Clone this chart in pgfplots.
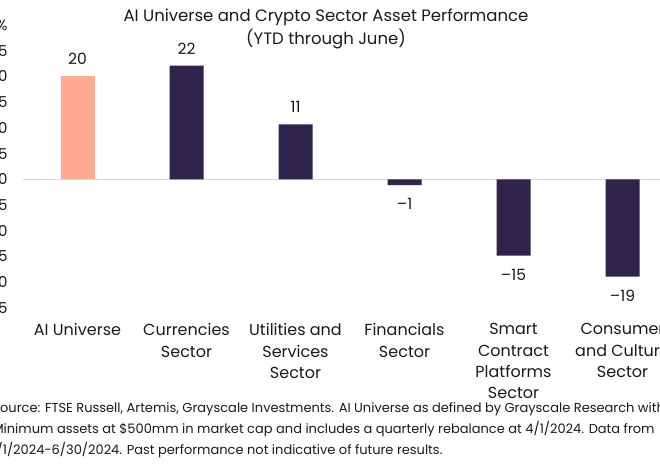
\documentclass[border=0pt]{standalone}
\usepackage{fontspec}
\setmainfont{Poppins}
\usepackage{pgfplots}
\pgfplotsset{compat=1.18}
\definecolor{aisalmon}{RGB}{255,171,145}
\definecolor{navy}{RGB}{46,35,74}
\definecolor{zeroline}{RGB}{217,217,217}
\definecolor{txt}{RGB}{26,26,26}

\begin{document}
\begin{tikzpicture}
% page = 660 x 470 (1pt = 1px); things that run past the edges are cut off, as in the reference
\useasboundingbox (0pt,0pt) rectangle (660pt,-470pt);

\node[align=center, text=txt, font=\fontsize{16.5}{23}\selectfont]
  at (326pt,-29pt) {AI Universe and Crypto Sector Asset Performance\\(YTD through June)};

\begin{axis}[
  at={(23pt,-308pt)}, anchor=south west,
  scale only axis, width=654pt, height=283pt,
  xmin=-0.5, xmax=5.5, ymin=-25, ymax=30,
  axis line style={draw=none}, tick style={draw=none},
  ytick={-25,-20,-15,-10,-5,0,5,10,15,20,25,30},
  yticklabels={\textendash25,\textendash20,\textendash15,\textendash10,\textendash5,0,5,10,15,20,25,30\%},
  yticklabel style={anchor=east, xshift=-12pt, text=txt, font=\fontsize{15}{18}\selectfont},
  xtick={0,1,2,3,4,5},
  xticklabels={AI Universe, Currencies\\Sector, Utilities and\\Services\\Sector,
               Financials\\Sector, Smart\\Contract\\Platforms\\Sector, Consumer\\and Culture\\Sector},
  xticklabel style={anchor=north, yshift=-12pt, align=center, text=txt,
                    font=\fontsize{16}{21.3}\selectfont},
  clip=false,
  point meta=explicit symbolic,
  nodes near coords,
  every node near coord/.append style={text=txt, font=\fontsize{15.5}{18}\selectfont},
]
\draw[zeroline, line width=1.5pt] (axis cs:-0.5,0) -- (axis cs:5.5,0);

\addplot[ybar, bar width=34pt, bar shift=0pt, fill=aisalmon, draw=none,
         every node near coord/.append style={anchor=south, yshift=8pt}]
  coordinates {(0,20.1) [20]};
\addplot[ybar, bar width=34pt, bar shift=0pt, fill=navy, draw=none,
         every node near coord/.append style={anchor=south, yshift=8pt}]
  coordinates {(1,22.1) [22] (2,10.7) [11]};
\addplot[ybar, bar width=34pt, bar shift=0pt, fill=navy, draw=none,
         every node near coord/.append style={anchor=north, yshift=-10pt}]
  coordinates {(3,-1.1) [\textendash1] (4,-14.8) [\textendash15] (5,-18.9) [\textendash19]};
\end{axis}

\node[anchor=north west, align=left, text=txt, font=\fontsize{13}{21}\selectfont]
  at (-11pt,-399pt)
  {Source: FTSE Russell, Artemis, Grayscale Investments. AI Universe as defined by Grayscale Research with\\
   Minimum assets at \$500mm in market cap and includes a quarterly rebalance at 4/1/2024. Data from\\
   1/1/2024-6/30/2024. Past performance not indicative of future results.};
\end{tikzpicture}
\end{document}
